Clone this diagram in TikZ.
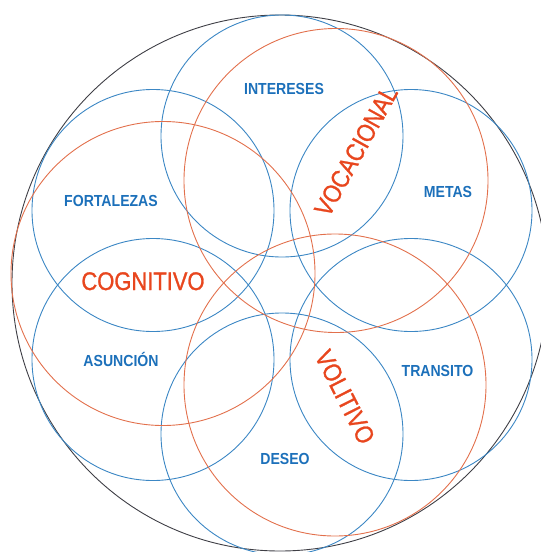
\documentclass[tikz,border=0pt]{standalone}
\usepackage{fontspec}
\setmainfont{Liberation Sans}
\newfontfamily\orangefont[FakeBold=1.2]{Liberation Sans}
\definecolor{ringblue}{HTML}{3C87C4}
\definecolor{ringorange}{HTML}{E2704C}
\definecolor{ringdark}{HTML}{3F3F46}
\definecolor{labelblue}{HTML}{1C70BA}
\definecolor{labelorange}{HTML}{E8461E}
\begin{document}
\begin{tikzpicture}[x=1pt,y=-1pt,
  bluering/.style={draw=ringblue, line width=0.9pt},
  orangering/.style={draw=ringorange, line width=0.9pt},
  outerring/.style={draw=ringdark, line width=0.9pt},
  bluelabel/.style={text=labelblue, font=\fontsize{16}{16}\selectfont\bfseries, inner sep=0pt, anchor=base},
  orangelabel/.style={text=labelorange, font=\fontsize{25.5}{25.5}\selectfont\orangefont, inner sep=0pt}]
\useasboundingbox (0,0) rectangle (541,552);
\clip (0,0) rectangle (541,552);
% outer circle
\draw[outerring] (280,283) circle[radius=268];
% blue circles (hexagonal flower)
\draw[bluering] (282,136) circle[radius=121];
\draw[bluering] (411,210.5) circle[radius=121];
\draw[bluering] (411,359.5) circle[radius=121];
\draw[bluering] (282,434) circle[radius=121];
\draw[bluering] (153,359.5) circle[radius=121];
\draw[bluering] (153,210.5) circle[radius=121];
% orange circles
\draw[orangering] (336,180.5) circle[radius=152];
\draw[orangering] (163,273.5) circle[radius=152];
\draw[orangering] (335,385) circle[radius=151];
% labels
\node[bluelabel] (intereses) at (284,94.3) {\scalebox{0.88}[1]{INTERESES}};
\node[bluelabel] (fortalezas) at (111,206.7) {\scalebox{0.88}[1]{FORTALEZAS}};
\node[bluelabel] (metas) at (448,197.3) {\scalebox{0.88}[1]{METAS}};
\node[bluelabel] (asuncion) at (121,366.7) {\scalebox{0.88}[1]{ASUNCIÓN}};
\node[bluelabel] (transito) at (437.5,376.7) {\scalebox{0.88}[1]{TRANSITO}};
\node[bluelabel] (deseo) at (285,464.3) {\scalebox{0.88}[1]{DESEO}};
\node[orangelabel, anchor=base] (cognitivo) at (143,290) {\scalebox{0.86}[1]{COGNITIVO}};
\node[orangelabel, rotate=61] (vocacional) at (356,151) {\scalebox{0.86}[1]{VOCACIONAL}};
\node[orangelabel, rotate=-63] (volitivo) at (345,397) {\scalebox{0.86}[1]{VOLITIVO}};
\end{tikzpicture}
\end{document}
